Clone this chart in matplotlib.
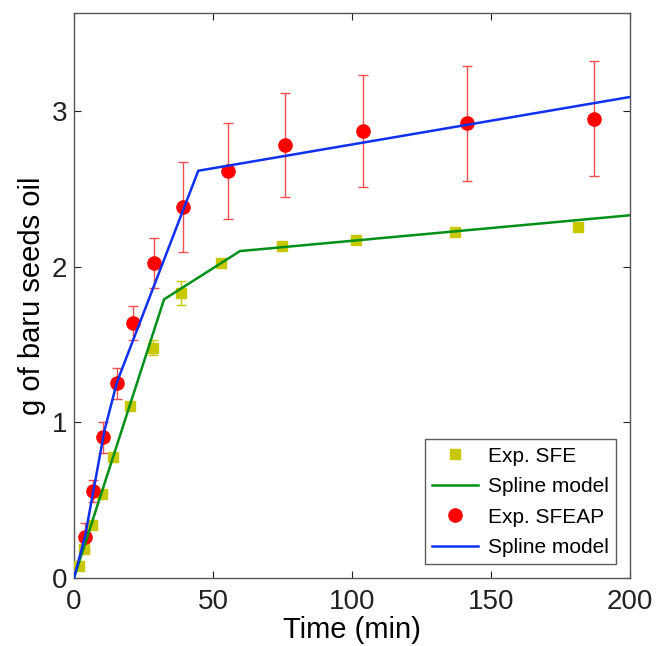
import numpy as np
import matplotlib
matplotlib.use('Agg')
import matplotlib.pyplot as plt

plt.rcParams['font.family'] = ['Liberation Sans', 'DejaVu Sans']

# Exp. SFE (yellow squares)
t_sfe = [1.9, 3.6, 6.6, 10.2, 13.9, 20.1, 28.3, 38.5, 52.9, 74.7, 101.4, 137.0, 181.4]
y_sfe = [0.077, 0.186, 0.34, 0.54, 0.78, 1.107, 1.48, 1.83, 2.025, 2.13, 2.17, 2.22, 2.256]
e_sfe = [0.0, 0.0, 0.0, 0.0, 0.0, 0.0, 0.05, 0.075, 0.0, 0.0, 0.0, 0.0, 0.0]

# Exp. SFEAP (red circles)
t_sfeap = [4.0, 6.7, 10.5, 15.4, 21.3, 28.9, 39.1, 55.5, 76.0, 104.0, 141.3, 187.0]
y_sfeap = [0.265, 0.559, 0.904, 1.25, 1.636, 2.025, 2.385, 2.616, 2.78, 2.87, 2.92, 2.95]
e_sfeap = [0.087, 0.07, 0.10, 0.10, 0.11, 0.16, 0.29, 0.31, 0.335, 0.36, 0.37, 0.37]

# spline models (knots)
t_spl_sfe = [0, 32.4, 59.7, 200]
y_spl_sfe = [0, 1.79, 2.10, 2.33]
t_spl_sfeap = [0, 4, 11, 15.5, 44.7, 200]
y_spl_sfeap = [0, 0.27, 0.95, 1.26, 2.616, 3.09]

yellow = '#c8c800'
green = '#00901a'
red = '#ff0000'
blue = '#1030f0'

fig = plt.figure(figsize=(6.57, 6.46), dpi=100)
ax = fig.add_axes([0.1126, 0.1053, 0.8463, 0.8747])

# error bars
ax.errorbar(t_sfe, y_sfe, yerr=e_sfe, fmt='none', ecolor=yellow, elinewidth=1,
            capsize=3.6, capthick=1, zorder=2)
ax.errorbar(t_sfeap, y_sfeap, yerr=e_sfeap, fmt='none', ecolor='#f05050', elinewidth=1,
            capsize=3.6, capthick=1, zorder=2)

ax.plot(t_sfe, y_sfe, ls='None', marker='s', ms=7.3, color=yellow, mec=yellow,
        label='Exp. SFE', zorder=3)
ax.plot(t_spl_sfe, y_spl_sfe, color=green, lw=1.8, label='Spline model', zorder=4)
ax.plot(t_sfeap, y_sfeap, ls='None', marker='o', ms=9.5, color=red, mec=red,
        label='Exp. SFEAP', zorder=3)
ax.plot(t_spl_sfeap, y_spl_sfeap, color=blue, lw=1.8, label='Spline model', zorder=4)

ax.set_xlim(0, 200)
ax.set_ylim(0, 3.63)
ax.set_xticks([0, 50, 100, 150, 200])
ax.set_yticks([0, 1, 2, 3])
ax.tick_params(direction='in', length=5, width=0.8, labelsize=20, colors='#222222',
               top=True, right=True)
ax.tick_params(axis='x', pad=8)
ax.tick_params(axis='y', pad=5)
for s in ax.spines.values():
    s.set_color('#555555')
    s.set_linewidth(1)

ax.set_xlabel('Time (min)', fontsize=21, labelpad=1)
ax.set_ylabel('g of baru seeds oil', fontsize=21, labelpad=4)

leg = ax.legend(loc='lower right', fontsize=15, frameon=True, fancybox=False,
                edgecolor='#333333', borderpad=0.35, labelspacing=0.55,
                handlelength=2.2, handletextpad=0.5, borderaxespad=0.65)
leg.get_frame().set_linewidth(1)

fig.savefig('out.png', dpi=100)
